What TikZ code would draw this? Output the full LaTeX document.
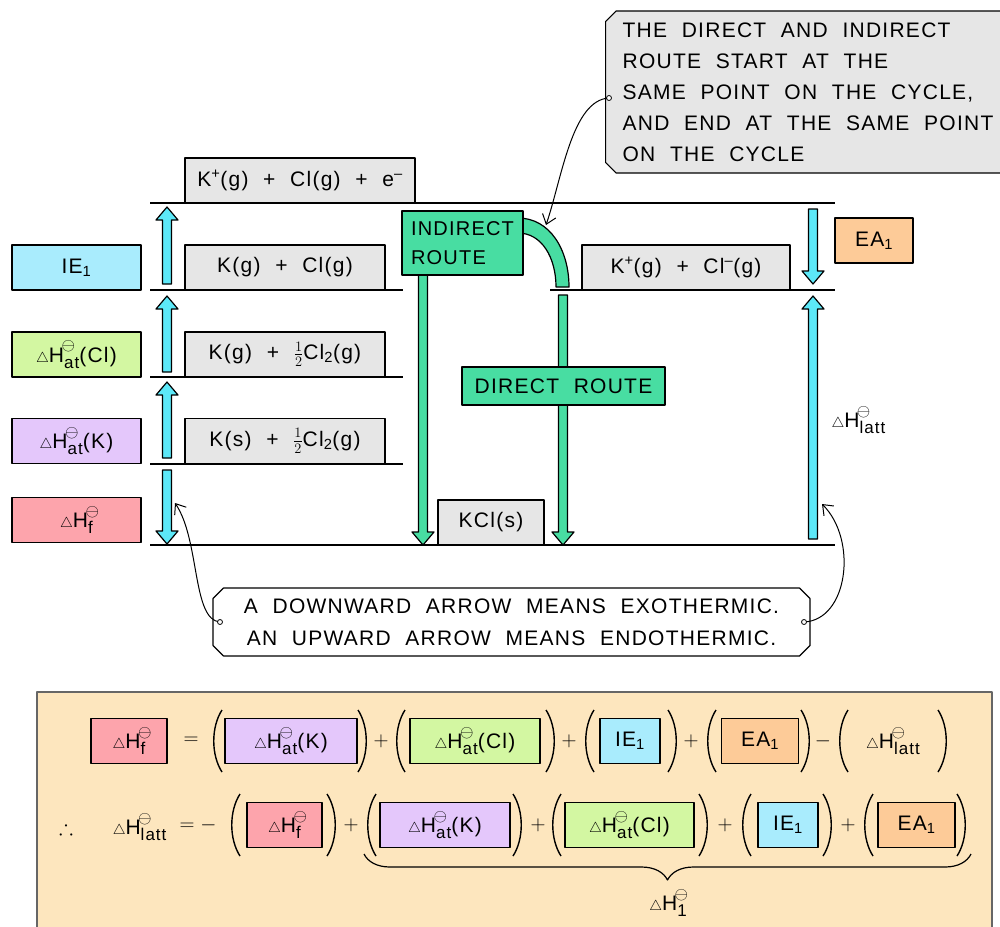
\documentclass[tikz,border=0pt]{standalone}
\usepackage{fontspec}
\setmainfont{Liberation Sans}[LetterSpace=6]
\usepackage{amssymb}
\usetikzlibrary{shapes.misc,decorations.pathreplacing,arrows.meta}

\definecolor{boxgrey}{HTML}{E6E6E6}
\definecolor{iecol}{HTML}{A9ECFD}
\definecolor{clcol}{HTML}{D3F7A2}
\definecolor{kcol}{HTML}{E4C7FB}
\definecolor{hfcol}{HTML}{FDA4AC}
\definecolor{eacol}{HTML}{FDCB98}
\definecolor{arrcyan}{HTML}{5CE8F8}
\definecolor{routegreen}{HTML}{48DDA2}
\definecolor{panel}{HTML}{FDE6BE}

\newcommand\dH[1]{{\fontsize{15}{15}\selectfont$\triangle$}H\rlap{\raisebox{0.55em}{\kern-0.12em\fontsize{17}{17}\selectfont$\ominus$}}\raisebox{-0.28em}{\fontsize{17}{17}\selectfont#1}}
\newcommand\widesp{\spaceskip0.7em\relax}

\tikzset{
  lbl/.style={font={\fontsize{21}{30}\selectfont\widesp}},
  level/.style={line width=1.5pt},
  species/.style={draw, line width=1.2pt, fill=boxgrey, minimum height=45pt, inner sep=0pt},
  tag/.style={draw, line width=1.2pt, minimum height=45pt, inner sep=0pt},
  cyanfill/.style={draw, line width=1.2pt, fill=arrcyan},
  greenfill/.style={draw, line width=1.2pt, fill=routegreen},
  routebox/.style={greenfill, inner sep=0pt},
  note/.style={draw, line width=1.2pt, chamfered rectangle, chamfered rectangle xsep=7pt, inner sep=0pt},
  pointer/.style={line width=1pt, -{Straight Barb[length=9pt,width=14pt]}},
  sym/.style={inner sep=0pt},
  lpar/.pic={\draw[line width=1.4pt] (6,-31) .. controls (-5,-14) and (-5,14) .. (6,31);},
  rpar/.pic={\draw[line width=1.4pt] (-6,-31) .. controls (5,-14) and (5,14) .. (-6,31);}
}

\begin{document}
\begin{tikzpicture}[x=1pt,y=-1pt,line join=round,every node/.style={lbl}]
\useasboundingbox (0,0) rectangle (1000,926);

\newcommand\BARROW[4]{% style, x, tail, tip
  \pgfmathsetmacro\hb{#4-13*sign(#4-#3)}%
  \draw[#1] (#2-4.5,#3) -- (#2-4.5,\hb) -- (#2-11,\hb) -- (#2,#4) -- (#2+11,\hb) -- (#2+4.5,\hb) -- (#2+4.5,#3) -- cycle;}

% left labels
\node[tag, fill=iecol, minimum width=129pt] (ie) at (76.5,267.5) {IE\textsubscript{1}};
\node[tag, fill=clcol, minimum width=129pt] (atcl) at (76.5,354.5) {\dH{at}(Cl)};
\node[tag, fill=kcol,  minimum width=129pt] (atk) at (76.5,441) {\dH{at}(K)};
\node[tag, fill=hfcol, minimum width=129pt] (hf) at (76.5,520) {\dH{f}};
\node[tag, fill=eacol, minimum width=78pt] (ea) at (874,240.5) {EA\textsubscript{1}};

% species on the levels
\node[species, minimum width=230pt] (top) at (300,180.5) {K\textsuperscript{+}(g) + Cl(g) + e\textsuperscript{--}};
\node[species, minimum width=200pt] (gas) at (285,267.5) {K(g) + Cl(g)};
\node[species, minimum width=200pt] (halfg) at (285,354.5) {K(g) + $\frac{1}{2}$Cl\textsubscript{2}(g)};
\node[species, minimum width=200pt] (halfs) at (285,441) {K(s) + $\frac{1}{2}$Cl\textsubscript{2}(g)};
\node[species, minimum width=106pt] (kcl) at (491,522.5) {KCl(s)};
\node[species, minimum width=208pt] (ions) at (686,267.5) {K\textsuperscript{+}(g) + Cl\textsuperscript{--}(g)};

% levels
\draw[level] (150,203) -- (835,203);
\draw[level] (150,290) -- (403,290);
\draw[level] (550,290) -- (835,290);
\draw[level] (150,377) -- (403,377);
\draw[level] (150,464) -- (403,464);
\draw[level] (150,545) -- (835,545);

% energy arrows
\BARROW{cyanfill}{167}{284}{207}
\BARROW{cyanfill}{167}{372}{296}
\BARROW{cyanfill}{167}{458}{382}
\BARROW{cyanfill}{167}{470}{544}
\BARROW{cyanfill}{813}{209}{284}
\BARROW{cyanfill}{813}{539}{296}
\node[anchor=west] (latt) at (828,420) {\dH{latt}};

% routes
\BARROW{greenfill}{423}{270}{545}
\draw[greenfill] (518,218) .. controls (550,218) and (569,250) .. (569,287)
  -- (556,287) .. controls (556,258) and (542,233) .. (518,233) -- cycle;
\node[routebox, minimum width=121pt, minimum height=64pt, align=left, font={\fontsize{20}{29}\selectfont}] (indirect) at (462.5,243) {INDIRECT\\ROUTE};
\BARROW{greenfill}{563}{295}{545}
\node[routebox, minimum width=203pt, minimum height=38pt] (direct) at (563.5,386) {DIRECT ROUTE};

% notes
\node[note, fill=boxgrey, anchor=west, minimum height=162pt, text width=400pt, inner xsep=10pt, align=left, font={\fontsize{21}{31}\selectfont\widesp}] (routes) at (605,92)
  {\widesp THE DIRECT AND INDIRECT\\ROUTE START AT THE\\SAME POINT ON THE CYCLE,\\AND END AT THE SAME POINT\\ON THE CYCLE};
\coordinate (routepin) at (609,98);
\coordinate (bendtip) at (546,225);
\draw[pointer] (routepin) .. controls (572,100) and (562,178) .. (bendtip);
\draw[fill=white, line width=0.8pt] (routepin) circle (2.5);

\node[note, fill=white, minimum width=597pt, minimum height=68pt, align=center, font={\fontsize{21}{32}\selectfont\widesp}] (rule) at (511.5,622)
  {A DOWNWARD ARROW MEANS EXOTHERMIC.\\AN UPWARD ARROW MEANS ENDOTHERMIC.};
\coordinate (rulepinL) at (220,622);
\coordinate (rulepinR) at (804,622);
\coordinate (hftip) at (175,503);
\coordinate (latttip) at (822,504);
\draw[pointer] (rulepinL) .. controls (192,620) and (200,540) .. (hftip);
\draw[pointer] (rulepinR) .. controls (848,620) and (858,540) .. (latttip);
\draw[fill=white, line width=0.8pt] (rulepinL) circle (2.5);
\draw[fill=white, line width=0.8pt] (rulepinR) circle (2.5);

% equations
\draw[fill=panel, draw=black!60, line width=1.2pt] (37,692) rectangle (992,940);

\node[tag, fill=hfcol, minimum width=76pt] (e1hf) at (129,741) {\dH{f}};
\node[sym] (e1eq) at (191,741) {$=$};
\pic at (216,741) {lpar};
\node[tag, fill=kcol, minimum width=132pt] (e1k) at (291,741) {\dH{at}(K)};
\pic at (364,741) {rpar};
\node[sym] (e1p1) at (381,741) {$+$};
\pic at (399,741) {lpar};
\node[tag, fill=clcol, minimum width=130pt] (e1cl) at (475,741) {\dH{at}(Cl)};
\pic at (552,741) {rpar};
\node[sym] (e1p2) at (569,741) {$+$};
\pic at (588,741) {lpar};
\node[tag, fill=iecol, minimum width=60pt] (e1ie) at (630,741) {IE\textsubscript{1}};
\pic at (674,741) {rpar};
\node[sym] (e1p3) at (691,741) {$+$};
\pic at (710,741) {lpar};
\node[tag, fill=eacol, minimum width=77pt] (e1ea) at (760,741) {EA\textsubscript{1}};
\pic at (807,741) {rpar};
\node[sym] (e1m) at (823,741) {$-$};
\pic at (842,741) {lpar};
\node (e1latt) at (893,741) {\dH{latt}};
\pic at (944,741) {rpar};

\node[sym] (e2so) at (66,827) {$\therefore$};
\node[anchor=east] (e2latt) at (170,827) {\dH{latt}};
\node[sym] (e2eq) at (198,825) {$=-$};
\pic at (234,825) {lpar};
\node[tag, fill=hfcol, minimum width=75pt] (e2hf) at (284.5,825) {\dH{f}};
\pic at (333,825) {rpar};
\node[sym] (e2p1) at (351,825) {$+$};
\pic at (370,825) {lpar};
\node[tag, fill=kcol, minimum width=130pt] (e2k) at (445,825) {\dH{at}(K)};
\pic at (519,825) {rpar};
\node[sym] (e2p2) at (538,825) {$+$};
\pic at (555,825) {lpar};
\node[tag, fill=clcol, minimum width=129pt] (e2cl) at (629.5,825) {\dH{at}(Cl)};
\pic at (705,825) {rpar};
\node[sym] (e2p3) at (725,825) {$+$};
\pic at (745,825) {lpar};
\node[tag, fill=iecol, minimum width=60pt] (e2ie) at (788,825) {IE\textsubscript{1}};
\pic at (829,825) {rpar};
\node[sym] (e2p4) at (848,825) {$+$};
\pic at (867,825) {lpar};
\node[tag, fill=eacol, minimum width=77pt] (e2ea) at (916.5,825) {EA\textsubscript{1}};
\pic at (963,825) {rpar};

\draw[line width=1.2pt, decorate, decoration={brace, amplitude=26pt, mirror}] (364,854) -- (971,854);
\node (sumh) at (668,903) {\dH{1}};

\end{tikzpicture}
\end{document}
